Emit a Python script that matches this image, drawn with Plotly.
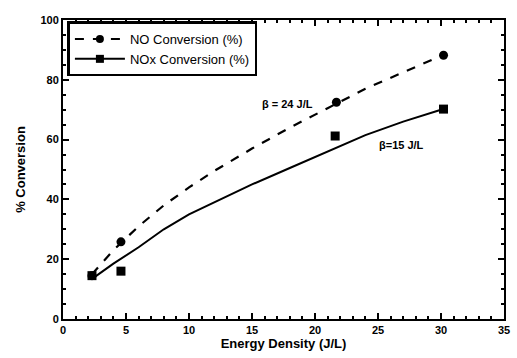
import plotly.graph_objects as go

# measured points
energy_no = [2.3, 4.6, 21.7, 30.2]
conv_no = [14.5, 25.8, 72.5, 88.2]
energy_nox = [2.3, 4.6, 21.6, 30.2]
conv_nox = [14.5, 16.0, 61.2, 70.2]

# fitted curves
fit_no_x = [2.3, 4, 6, 8, 10, 12, 15, 18, 21, 24, 27, 30]
fit_no_y = [15, 23, 31, 38, 44, 49.5, 57, 64, 70.5, 77, 82.5, 88]
fit_nox_x = [2.5, 4, 6, 8, 10, 12, 15, 18, 21, 24, 27, 30]
fit_nox_y = [14, 18.5, 24, 30, 35, 39, 45, 50.5, 56, 61.5, 66, 70]

# annotation labels
labels = ["<b>β = 24 J/L</b>", "<b>β=15 J/L</b>"]
label_x = [17.8, 26.9]
label_y = [71.8, 58.3]

font = "Liberation Sans"
fig = go.Figure()
fig.add_trace(go.Scatter(x=fit_no_x, y=fit_no_y, mode="lines", line=dict(color="black", width=2.2, dash="dash"),
                         showlegend=False, hoverinfo="skip"))
fig.add_trace(go.Scatter(x=fit_nox_x, y=fit_nox_y, mode="lines", line=dict(color="black", width=2),
                         showlegend=False, hoverinfo="skip"))
fig.add_trace(go.Scatter(x=energy_no, y=conv_no, mode="markers", showlegend=False,
                         marker=dict(symbol="circle", size=9, color="black")))
fig.add_trace(go.Scatter(x=energy_nox, y=conv_nox, mode="markers", showlegend=False,
                         marker=dict(symbol="square", size=9, color="black")))
# legend entries (line + marker)
fig.add_trace(go.Scatter(x=[None], y=[None], mode="lines+markers", name="NO Conversion (%)",
                         line=dict(color="black", width=2, dash="dash"),
                         marker=dict(symbol="circle", size=8, color="black")))
fig.add_trace(go.Scatter(x=[None], y=[None], mode="lines+markers", name="NOx Conversion (%)",
                         line=dict(color="black", width=2),
                         marker=dict(symbol="square", size=8, color="black")))

tickfont = dict(family=font, size=11, color="black", weight="bold")
titlefont = dict(family=font, size=13, color="black", weight="bold")
axis_common = dict(showline=True, linecolor="black", linewidth=2, mirror="ticks", ticks="inside",
                   tickcolor="black", tickwidth=1.5, showgrid=False, zeroline=False, tickfont=tickfont)
fig.update_xaxes(range=[0, 35], tickvals=[0, 5, 10, 15, 20, 25, 30, 35], ticklen=6,
                 minor=dict(dtick=1, ticks="inside", ticklen=3, tickcolor="black"),
                 title=dict(text="Energy Density (J/L)", font=titlefont, standoff=2),
                 **axis_common)
fig.update_yaxes(range=[0, 100], tickvals=[0, 20, 40, 60, 80, 100], ticklen=6,
                 minor=dict(dtick=5, ticks="inside", ticklen=3, tickcolor="black"),
                 title=dict(text="% Conversion", font=titlefont, standoff=12),
                 **axis_common)

for t, x, y in zip(labels, label_x, label_y):
    fig.add_annotation(x=x, y=y, text=t, showarrow=False, font=dict(family=font, size=11, color="black"))

fig.update_layout(width=517, height=358, margin=dict(l=63, r=7, t=20, b=39),
                  paper_bgcolor="white", plot_bgcolor="white",
                  legend=dict(x=0.01, y=0.995, xanchor="left", yanchor="top", bordercolor="black", borderwidth=2.5,
                              bgcolor="white", font=dict(family=font, size=13, color="black"), tracegroupgap=0,
                              itemwidth=50),
                  font=dict(family=font, color="black"))
fig.write_html("out.html")
